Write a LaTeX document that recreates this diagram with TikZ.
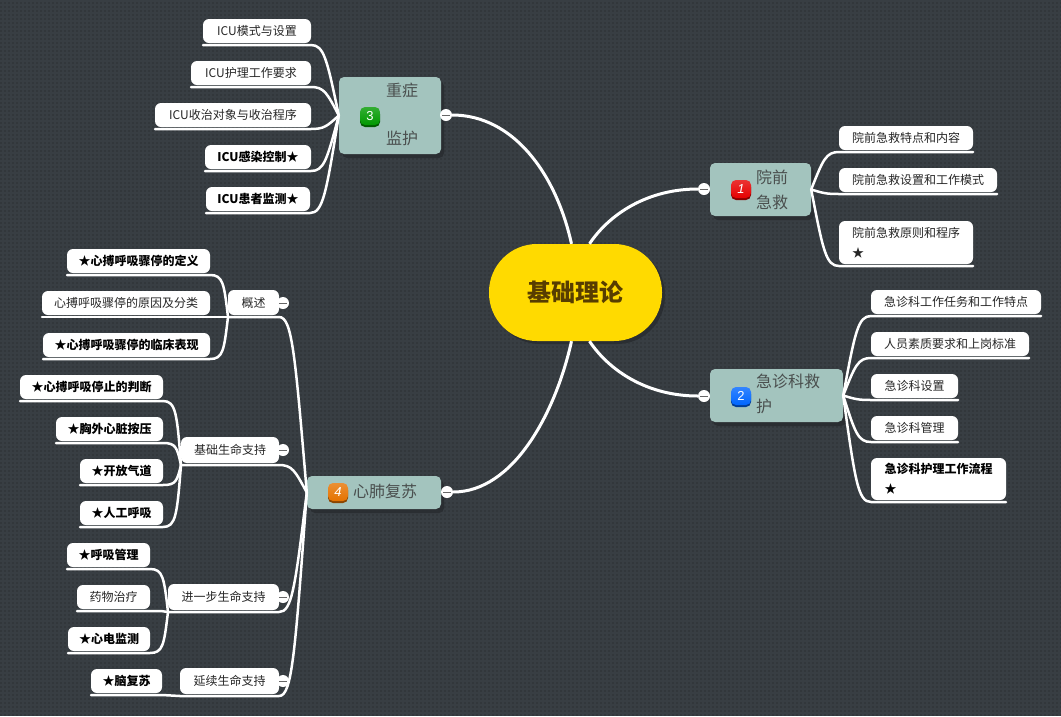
\documentclass[tikz,border=0pt]{standalone}
\usepackage{fontspec}
\setmainfont{Noto Sans CJK SC}
\newfontfamily\badgefont{Liberation Sans}
\usetikzlibrary{patterns,shadows,calc,positioning}

\definecolor{bgdark}{HTML}{383E43}
\definecolor{bgdot}{HTML}{32373B}
\definecolor{shadowdark}{HTML}{2A2E32}
\definecolor{topicfill}{HTML}{A3C4BE}
\definecolor{topictext}{HTML}{4A4F4E}
\definecolor{rootfill}{HTML}{FFDA00}
\definecolor{roottext}{HTML}{573D00}

\pgfdeclarepatternformonly{bgdots}{\pgfqpoint{0pt}{0pt}}{\pgfqpoint{2pt}{2pt}}{\pgfqpoint{4pt}{4pt}}{
  \pgfpathrectangle{\pgfqpoint{0pt}{0pt}}{\pgfqpoint{2pt}{2pt}}\pgfusepath{fill}}

\tikzset{
  rootnode/.style={fill=rootfill,text=roottext,rounded corners=48pt,minimum width=173pt,minimum height=97pt,inner sep=0pt,
    font=\fontsize{24}{28}\selectfont\bfseries,drop shadow={shadow xshift=3pt,shadow yshift=-3pt,fill=shadowdark,opacity=1}},
  topic/.style={fill=topicfill,rounded corners=5pt,inner sep=0pt,drop shadow={shadow xshift=3pt,shadow yshift=-4pt,fill=shadowdark,opacity=1}},
  topiclabel/.style={text=topictext,inner sep=0pt,align=left,font=\fontsize{16}{25}\selectfont},
  badge/.style={top color=#1!80!white,bottom color=#1,rounded corners=5pt,minimum width=20pt,minimum height=18pt,inner sep=0pt,text=white,
    font=\fontsize{13}{14}\badgefont,preaction={fill=#1!60!black,transform canvas={yshift=-2pt}}},
  leaf/.style={fill=white,text=black!85,rounded corners=6pt,anchor=south east,inner sep=0pt,outer xsep=0pt,outer ysep=2pt,
    minimum height=24pt,align=left,font=\fontsize{12}{20}\selectfont},
  boldleaf/.style={leaf,text=black,font=\fontsize{12}{20}\selectfont\bfseries},
  collapse/.style={circle,fill=white,minimum size=12pt,inner sep=0pt,path picture={\draw[black!60,line width=1pt]
    ($(path picture bounding box.west)+(2,0)$) -- ($(path picture bounding box.east)+(-2,0)$);}},
  trunk/.style={white,line width=3pt},
  branch/.style={white,line width=2.5pt,line cap=round},
}
\newcommand{\leftlink}[2]{\draw[branch] (#1.south west) -- (#1.south east) .. controls +(13,0) and ($($(#1.south east)+(13,0)$)!.2!(#2)$) .. (#2);}
\newcommand{\rightlink}[2]{\draw[branch] (#2) .. controls ($($(#1.south west)+(-13,0)$)!.2!(#2)$) and ($(#1.south west)+(-13,0)$) .. (#1.south west) -- (#1.south east);}

\begin{document}
\begin{tikzpicture}[x=1pt,y=-1pt]
\useasboundingbox (0,0) rectangle (1061,716);
\fill[bgdark] (0,0) rectangle (1061,716);
\fill[pattern=bgdots,pattern color=bgdot] (0,0) rectangle (1061,716);

% main topics
\node[topic,minimum width=101pt,minimum height=53pt] (t1) at (760.5,189.5) {};
\node[topic,minimum width=133pt,minimum height=53pt] (t2) at (776.5,395.5) {};
\node[topic,minimum width=102pt,minimum height=77pt] (t3) at (390,115.5) {};
\node[topic,minimum width=134pt,minimum height=33pt] (t4) at (374,492.5) {};
\foreach \n/\x/\y/\c/\num in {b1/741/189/red!90!black/\itshape 1, b2/741/396/blue!60!cyan/2, b3/370/116/green!60!black/3, b4/338/492/orange!90!black/\itshape 4}
  \node[badge=\c] (\n) at (\x,\y) {\num};
\node[topiclabel,anchor=west] (l1) at (756,189.5) {院前\\急救};
\node[topiclabel,anchor=west] (l2) at (756,394) {急诊科救\\护};
\node[topiclabel,anchor=west] (l3) at (386,114) {重症\\[23pt]监护};
\node[topiclabel,anchor=west] (l4) at (353,491) {心肺复苏};

% second level, left of t4
\foreach \n/\r/\b/\w/\h/\txt in {g1/279/317/51/25/概述, g2/279/465/98/26/基础生命支持, g3/279/612/111/26/进一步生命支持, g4/279/696/99/26/延续生命支持}
  \node[leaf,minimum width=\w pt,minimum height=\h pt] (\n) at (\r,\b) {\txt};

% leaves
\foreach \n/\r/\b/\w/\txt in {
  a1/311/45/108/ICU模式与设置, a2/311/87/120/ICU护理工作要求, a3/311/129/156/ICU收治对象与收治程序,
  p1/973/152/134/院前急救特点和内容, p2/997/194/158/院前急救设置和工作模式,
  e1/1041/316/170/急诊科工作任务和工作特点, e2/1029/358/158/人员素质要求和上岗标准, e3/958/400/87/急诊科设置, e4/958/442/87/急诊科管理,
  d2/210/317/168/心搏呼吸骤停的原因及分类, f2/150/611/73/药物治疗}
  \node[leaf,minimum width=\w pt] (\n) at (\r,\b) {\txt};
\foreach \n/\r/\b/\w/\txt in {
  a4/311/171/106/ICU感染控制★, a5/310/213/104/ICU患者监测★,
  d1/210/275/143/★心搏呼吸骤停的定义, d3/210/359/167/★心搏呼吸骤停的临床表现,
  k1/163/401/143/★心搏呼吸停止的判断, k2/163/443/107/★胸外心脏按压, k3/163/485/83/★开放气道, k4/163/527/83/★人工呼吸,
  m1/150/569/83/★呼吸管理, m3/150/653/82/★心电监测, n1/162/695/71/★脑复苏}
  \node[boldleaf,minimum width=\w pt] (\n) at (\r,\b) {\txt};
\node[leaf,minimum width=134pt,minimum height=43pt] (p3) at (973,266) {院前急救原则和程序\\★};
\node[boldleaf,minimum width=135pt,minimum height=42pt] (e5) at (1006,502) {急诊科护理工作流程\\★};

% connectors
\foreach \n in {a1,a2,a3,a4,a5} { \leftlink{\n}{t3.west} }
\foreach \n in {d1,d2,d3} { \leftlink{\n}{g1.south west} }
\foreach \n in {k1,k2,k3,k4} { \leftlink{\n}{g2.south west} }
\foreach \n in {m1,f2,m3} { \leftlink{\n}{g3.south west} }
\draw[branch] (n1.south west) -- (n1.south east) -- (g4.south west);
\foreach \n in {g1,g2,g3,g4} { \leftlink{\n}{t4.west} }
\foreach \n in {p1,p2,p3} { \rightlink{\n}{t1.east} }
\foreach \n in {e1,e2,e3,e4,e5} { \rightlink{\n}{t2.east} }

% collapse buttons
\foreach \n/\x/\y in {c1/704/189, c2/704/396, c3/446/115, c4/447/492, s1/283/303, s2/283/450, s3/283/597, s4/283/681}
  \node[collapse] (\n) at (\x,\y) {};

% root and trunks
\node[rootnode] (root) at (575.5,292.5) {基础理论};
\draw[trunk] ($(root.north)+(-4,0)$) .. controls +(-16,-72) and +(60,0) .. (c3.east);
\draw[trunk] ($(root.north)+(14,0)$) .. controls +(20,-30) and +(-50,0) .. (c1.west);
\draw[trunk] ($(root.south)+(14,0)$) .. controls +(20,30) and +(-50,0) .. (c2.west);
\draw[trunk] ($(root.south)+(-4,0)$) .. controls +(-16,72) and +(60,0) .. (c4.east);
\end{tikzpicture}
\end{document}
